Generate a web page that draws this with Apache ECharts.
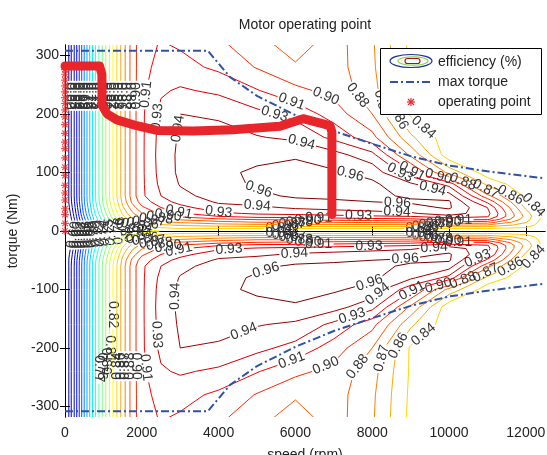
<!DOCTYPE html>
<html><head><meta charset="utf-8">
<script src="https://cdn.jsdelivr.net/npm/echarts@6/dist/echarts.min.js"></script>
<style>html,body{margin:0;padding:0;background:#fff}#c{width:547px;height:455px}</style>
</head><body><div id="c"></div>
<script>
// ---------- data ----------
const speedGrid = [0, 100, 250, 500, 750, 1000, 1250, 1500, 1750, 2000, 2500, 3000, 4000, 5000, 6000, 7000, 8000, 9000, 10000, 11000, 12000, 12500];
// torque rows (positive half; the map is mirror-symmetric about 0 Nm)
const torqueRows = [0, 5, 10, 15, 20, 25, 30, 40, 50, 60, 80, 100, 130, 160, 200, 240, 280, 320];
const eff_T0   = [0, 0.57, 0.60, 0.65, 0.70, 0.735, 0.765, 0.79, 0.805, 0.815, 0.826, 0.83, 0.83, 0.83, 0.83, 0.83, 0.83, 0.83, 0.83, 0.83, 0.83, 0.83];
const eff_T5   = [0, 0.575, 0.605, 0.655, 0.705, 0.74, 0.772, 0.80, 0.818, 0.83, 0.838, 0.842, 0.842, 0.842, 0.842, 0.842, 0.842, 0.842, 0.842, 0.842, 0.838, 0.83];
const eff_T10  = [0, 0.58, 0.61, 0.66, 0.71, 0.745, 0.78, 0.81, 0.83, 0.845, 0.852, 0.857, 0.862, 0.865, 0.865, 0.865, 0.865, 0.865, 0.87, 0.868, 0.848, 0.83];
const eff_T15  = [0, 0.583, 0.613, 0.665, 0.715, 0.752, 0.788, 0.82, 0.842, 0.856, 0.866, 0.872, 0.88, 0.885, 0.885, 0.886, 0.888, 0.89, 0.895, 0.893, 0.856, 0.831];
const eff_T20  = [0, 0.586, 0.616, 0.67, 0.72, 0.758, 0.795, 0.828, 0.85, 0.865, 0.88, 0.888, 0.897, 0.902, 0.905, 0.907, 0.91, 0.912, 0.92, 0.918, 0.862, 0.832];
const eff_T25  = [0, 0.589, 0.619, 0.675, 0.725, 0.764, 0.802, 0.836, 0.86, 0.875, 0.893, 0.903, 0.915, 0.922, 0.922, 0.925, 0.928, 0.93, 0.94, 0.932, 0.865, 0.832];
const eff_T30  = [0, 0.592, 0.622, 0.68, 0.73, 0.77, 0.808, 0.843, 0.867, 0.884, 0.903, 0.913, 0.927, 0.932, 0.935, 0.937, 0.94, 0.943, 0.953, 0.935, 0.862, 0.831];
const eff_T40  = [0, 0.597, 0.627, 0.685, 0.736, 0.777, 0.816, 0.852, 0.878, 0.897, 0.915, 0.925, 0.94, 0.942, 0.947, 0.95, 0.952, 0.955, 0.962, 0.93, 0.852, 0.83];
const eff_T50  = [0, 0.601, 0.631, 0.689, 0.741, 0.783, 0.822, 0.859, 0.888, 0.907, 0.924, 0.935, 0.947, 0.951, 0.956, 0.958, 0.96, 0.962, 0.962, 0.912, 0.843, 0.83];
const eff_T60  = [0, 0.603, 0.632, 0.69, 0.742, 0.785, 0.825, 0.862, 0.892, 0.912, 0.93, 0.941, 0.951, 0.957, 0.962, 0.963, 0.963, 0.958, 0.952, 0.89, 0.836, 0.83];
const eff_T80  = [0, 0.603, 0.632, 0.69, 0.742, 0.785, 0.825, 0.862, 0.892, 0.912, 0.934, 0.946, 0.955, 0.962, 0.965, 0.965, 0.963, 0.948, 0.925, 0.85, 0.83, 0.83];
const eff_T100 = [0, 0.603, 0.632, 0.69, 0.742, 0.785, 0.825, 0.862, 0.892, 0.912, 0.936, 0.948, 0.956, 0.963, 0.966, 0.962, 0.955, 0.92, 0.865, 0.832, 0.83, 0.83];
const eff_T130 = [0, 0.603, 0.632, 0.69, 0.742, 0.785, 0.825, 0.862, 0.892, 0.912, 0.937, 0.948, 0.954, 0.955, 0.958, 0.951, 0.935, 0.882, 0.83, 0.83, 0.83, 0.83];
const eff_T160 = [0, 0.603, 0.632, 0.69, 0.742, 0.785, 0.825, 0.862, 0.892, 0.912, 0.936, 0.947, 0.95, 0.946, 0.942, 0.926, 0.905, 0.858, 0.83, 0.83, 0.83, 0.83];
const eff_T200 = [0, 0.603, 0.632, 0.69, 0.742, 0.785, 0.825, 0.862, 0.892, 0.912, 0.934, 0.945, 0.943, 0.934, 0.925, 0.908, 0.885, 0.838, 0.83, 0.83, 0.83, 0.83];
const eff_T240 = [0, 0.603, 0.632, 0.69, 0.742, 0.785, 0.825, 0.862, 0.892, 0.911, 0.928, 0.932, 0.927, 0.916, 0.904, 0.895, 0.876, 0.838, 0.83, 0.83, 0.83, 0.83];
const eff_T280 = [0, 0.603, 0.632, 0.69, 0.742, 0.785, 0.825, 0.862, 0.892, 0.91, 0.92, 0.92, 0.912, 0.899, 0.887, 0.892, 0.873, 0.837, 0.83, 0.83, 0.83, 0.83];
const eff_T320 = [0, 0.603, 0.632, 0.69, 0.742, 0.785, 0.825, 0.862, 0.892, 0.91, 0.916, 0.913, 0.903, 0.89, 0.878, 0.892, 0.872, 0.836, 0.83, 0.83, 0.83, 0.83];
const effRows = [eff_T0, eff_T5, eff_T10, eff_T15, eff_T20, eff_T25, eff_T30, eff_T40, eff_T50, eff_T60, eff_T80, eff_T100, eff_T130, eff_T160, eff_T200, eff_T240, eff_T280, eff_T320];

const contourLevels = [0.60, 0.615, 0.63, 0.645, 0.66, 0.675, 0.69, 0.705, 0.72, 0.735, 0.75, 0.765, 0.78, 0.795, 0.81, 0.825, 0.84, 0.855, 0.87, 0.885, 0.90, 0.915, 0.93, 0.945, 0.96];
const contourLabels = ['0.60', '0.62', '0.63', '0.64', '0.66', '0.68', '0.69', '0.70', '0.72', '0.74', '0.75', '0.77', '0.78', '0.80', '0.81', '0.82', '0.84', '0.86', '0.87', '0.88', '0.90', '0.91', '0.93', '0.94', '0.96'];

const maxTorqueSpeed = [0, 3720, 4300, 5000, 6000, 7000, 8000, 9000, 10000, 11000, 12000, 12500];
const maxTorqueValue = [308, 308, 263, 231, 198, 171, 149, 128, 112, 102, 94, 90];

const opPathSpeed  = [0, 900, 960, 965, 1100, 1350, 1870, 2390, 3330, 4370, 5600, 6200, 6900, 6950, 6950];
const opPathTorque = [282, 282, 268, 215, 200, 190, 180, 172, 171, 173, 179, 192, 180, 170, 28];
const opStartTorque = [0, 13, 28, 38, 53, 65, 78, 95, 109, 125, 141, 152, 167, 182, 195, 207, 218, 228, 238, 248, 258, 268, 276];

const xTicks = [0, 2000, 4000, 6000, 8000, 10000, 12000];
const yTicks = [-300, -200, -100, 0, 100, 200, 300];

// ---------- contour computation (marching squares) ----------
const gridT = [], gridZ = [];
for (let j = torqueRows.length - 1; j > 0; j--) { gridT.push(-torqueRows[j]); gridZ.push(effRows[j]); }
for (let j = 0; j < torqueRows.length; j++) { gridT.push(torqueRows[j]); gridZ.push(effRows[j]); }

function contourLines(S, T, Z, L) {
  const nx = S.length, ny = T.length;
  const pts = {}, adj = {};
  function key(type, j, i) {
    const k = type + j + '_' + i;
    if (!pts[k]) {
      if (type === 'h') {
        const a = Z[j][i], b = Z[j][i + 1], t = (L - a) / (b - a);
        pts[k] = [S[i] + t * (S[i + 1] - S[i]), T[j]];
      } else {
        const a = Z[j][i], b = Z[j + 1][i], t = (L - a) / (b - a);
        pts[k] = [S[i], T[j] + t * (T[j + 1] - T[j])];
      }
    }
    return k;
  }
  function seg(k1, k2) { (adj[k1] = adj[k1] || []).push(k2); (adj[k2] = adj[k2] || []).push(k1); }
  for (let j = 0; j < ny - 1; j++) for (let i = 0; i < nx - 1; i++) {
    const a = Z[j][i], b = Z[j][i + 1], c = Z[j + 1][i + 1], d = Z[j + 1][i];
    const A = a >= L, B = b >= L, C = c >= L, D = d >= L;
    const e = {};
    if (A !== B) e.bot = key('h', j, i);
    if (B !== C) e.right = key('v', j, i + 1);
    if (D !== C) e.top = key('h', j + 1, i);
    if (A !== D) e.left = key('v', j, i);
    const ks = Object.keys(e);
    if (ks.length === 2) seg(e[ks[0]], e[ks[1]]);
    else if (ks.length === 4) {
      const ctr = (a + b + c + d) / 4 >= L;
      if (ctr === A) { seg(e.bot, e.right); seg(e.top, e.left); }
      else { seg(e.bot, e.left); seg(e.right, e.top); }
    }
  }
  const visited = new Set(), lines = [];
  function walk(start) {
    const line = [pts[start]]; visited.add(start);
    let cur = start;
    while (true) {
      const nb = adj[cur].filter(k => !visited.has(k));
      if (!nb.length) { if (adj[cur].includes(start) && line.length > 2) line.push(pts[start]); break; }
      cur = nb[0]; visited.add(cur); line.push(pts[cur]);
    }
    return line;
  }
  Object.keys(adj).forEach(k => { if (adj[k].length === 1 && !visited.has(k)) lines.push(walk(k)); });
  Object.keys(adj).forEach(k => { if (!visited.has(k)) lines.push(walk(k)); });
  return lines;
}

function jet(t) {
  const cl = v => Math.max(0, Math.min(1, v));
  const r = cl(1.5 - Math.abs(4 * t - 3)), g = cl(1.5 - Math.abs(4 * t - 2)), b = cl(1.5 - Math.abs(4 * t - 1));
  return 'rgb(' + Math.round(r * 255) + ',' + Math.round(g * 255) + ',' + Math.round(b * 255) + ')';
}
const lvMin = contourLevels[0], lvMax = contourLevels[contourLevels.length - 1];
const polylines = [];
contourLevels.forEach((L, li) => {
  contourLines(speedGrid, gridT, gridZ, L).forEach(pl => {
    if (pl.length < 2) return;
    if (pl[0][1] < pl[pl.length - 1][1]) pl.reverse();
    polylines.push({ pts: pl, color: jet((L - lvMin) / (lvMax - lvMin)), text: contourLabels[li] });
  });
});

const FONT = '"Liberation Sans", Arial, Helvetica, sans-serif';
const LABEL_FIRST = 52, LABEL_STEP = 140, LABEL_GAP = 30, LABEL_TAIL = 48;

function subPath(P, cum, s0, s1) {
  const out = [];
  function at(s) {
    for (let k = 1; k < P.length; k++) if (cum[k] >= s) {
      const t = (s - cum[k - 1]) / ((cum[k] - cum[k - 1]) || 1);
      return [P[k - 1][0] + t * (P[k][0] - P[k - 1][0]), P[k - 1][1] + t * (P[k][1] - P[k - 1][1])];
    }
    return P[P.length - 1];
  }
  out.push(at(s0));
  for (let k = 0; k < P.length; k++) if (cum[k] > s0 && cum[k] < s1) out.push(P[k]);
  out.push(at(s1));
  return out;
}

function renderContour(params, api) {
  const item = polylines[params.dataIndex];
  const P = item.pts.map(p => api.coord(p));
  const cum = [0];
  for (let k = 1; k < P.length; k++) cum.push(cum[k - 1] + Math.hypot(P[k][0] - P[k - 1][0], P[k][1] - P[k - 1][1]));
  const total = cum[cum.length - 1];
  const labels = [];
  for (let s = LABEL_FIRST; s + LABEL_TAIL < total; s += LABEL_STEP) labels.push(s);
  const children = [];
  let from = 0;
  const pieces = [];
  labels.forEach(s => { pieces.push([from, s - LABEL_GAP / 2]); from = s + LABEL_GAP / 2; });
  pieces.push([from, total]);
  pieces.forEach(([a, b]) => {
    if (b - a <= 0.5) return;
    children.push({ type: 'polyline', shape: { points: subPath(P, cum, a, b) }, style: { stroke: item.color, fill: null, lineWidth: 1 }, silent: true });
  });
  labels.forEach(s => {
    const p0 = subPath(P, cum, s - 6, s + 6);
    const q0 = p0[0], q1 = p0[p0.length - 1];
    let ang = Math.atan2(q1[1] - q0[1], q1[0] - q0[0]);
    if (ang > Math.PI / 2) ang -= Math.PI; if (ang < -Math.PI / 2) ang += Math.PI;
    const c = subPath(P, cum, s, s)[0];
    children.push({ type: 'text', x: c[0], y: c[1], rotation: -ang, silent: true,
      style: { text: item.text, fill: '#333', font: '14px ' + FONT, align: 'center', verticalAlign: 'middle' } });
  });
  return { type: 'group', children };
}

const chart = echarts.init(document.getElementById('c'), null, { renderer: 'canvas' });
const axisCommon = {
  axisLine: { lineStyle: { color: '#000', width: 1 } },
  splitLine: { show: false },
};
const plain = v => String(v);
const starLen = 4, starDiag = 3;
const option = {
  animation: false,
  backgroundColor: '#fff',
  title: { text: 'Motor operating point', left: 300, textAlign: 'center', top: 13,
    textStyle: { fontFamily: FONT, fontSize: 14, fontWeight: 'normal', color: '#222' } },
  grid: { left: 65, right: 2, top: 45, bottom: 38, show: false, containLabel: false, outerBoundsMode: 'none' },
  xAxis: [
    Object.assign({ type: 'value', min: 0, max: 12500, position: 'bottom', name: 'speed (rpm)', nameLocation: 'middle', nameGap: 31,
      nameTextStyle: { fontFamily: FONT, fontSize: 14, color: '#222' },
      axisTick: { inside: true, length: 5, customValues: xTicks, lineStyle: { color: '#000' } },
      axisLabel: { customValues: xTicks, formatter: plain, fontFamily: FONT, fontSize: 14, color: '#222', margin: 9 } }, axisCommon),
    Object.assign({ type: 'value', min: 0, max: 12500, position: 'top',
      axisTick: { inside: true, length: 5, customValues: xTicks, lineStyle: { color: '#000' } },
      axisLabel: { show: false } }, axisCommon)
  ],
  yAxis: [
    Object.assign({ type: 'value', min: -318, max: 318, position: 'left', name: 'torque (Nm)', nameLocation: 'middle', nameGap: 37,
      nameTextStyle: { fontFamily: FONT, fontSize: 14, color: '#222' },
      axisTick: { inside: true, length: 5, customValues: yTicks, lineStyle: { color: '#000' } },
      axisLabel: { customValues: yTicks, formatter: plain, fontFamily: FONT, fontSize: 14, color: '#222', margin: 6 } }, axisCommon),
    Object.assign({ type: 'value', min: -318, max: 318, position: 'right',
      axisTick: { inside: true, length: 5, customValues: yTicks, lineStyle: { color: '#000' } },
      axisLabel: { show: false } }, axisCommon)
  ],
  series: [
    { type: 'custom', name: 'efficiency (%)', clip: true, z: 2, silent: true,
      renderItem: renderContour, data: polylines.map(() => [0, 0]), encode: { x: 0, y: 1 } },
    { type: 'line', name: 'max torque', z: 3, symbol: 'none', silent: true,
      data: maxTorqueSpeed.map((s, i) => [s, maxTorqueValue[i]]),
      lineStyle: { color: '#2f52a8', width: 2, type: [8, 3, 2, 3] } },
    { type: 'line', name: 'max torque', z: 3, symbol: 'none', silent: true,
      data: maxTorqueSpeed.map((s, i) => [s, -maxTorqueValue[i]]),
      lineStyle: { color: '#2f52a8', width: 2, type: [8, 3, 2, 3] } },
    { type: 'line', name: 'operating point', z: 4, symbol: 'none', silent: true,
      data: opPathSpeed.map((s, i) => [s, opPathTorque[i]]),
      lineStyle: { color: '#e8252a', width: 9, join: 'round', cap: 'round' } },
    { type: 'scatter', name: 'operating point', z: 4, silent: true, clip: false,
      symbol: 'path://M0,-10L0,10M-10,0L10,0M-7,-7L7,7M-7,7L7,-7', symbolSize: 8,
      data: opStartTorque.map(t => [0, t]),
      itemStyle: { color: 'rgba(0,0,0,0)', borderColor: '#e8252a', borderWidth: 1.2 } }
  ],
  graphic: [
    { type: 'rect', z: 100, shape: { x: 380.5, y: 48.5, width: 161, height: 66 }, style: { fill: '#fff', stroke: '#000', lineWidth: 1 } },
    { type: 'ellipse', z: 101, shape: { cx: 411, cy: 61, rx: 21, ry: 6.5 }, style: { fill: null, stroke: '#1c2d9c', lineWidth: 1.2 } },
    { type: 'ellipse', z: 101, shape: { cx: 413, cy: 61, rx: 15, ry: 4.2 }, style: { fill: null, stroke: '#8fd14a', lineWidth: 1.2 } },
    { type: 'rect', z: 101, shape: { x: 405, y: 58.5, width: 15, height: 5, r: 2.5 }, style: { fill: null, stroke: '#a51515', lineWidth: 1.2 } },
    { type: 'text', z: 101, x: 438, y: 62, style: { text: 'efficiency (%)', font: '14px ' + FONT, fill: '#222', verticalAlign: 'middle' } },
    { type: 'line', z: 101, shape: { x1: 390, y1: 82, x2: 433, y2: 82 }, style: { stroke: '#2f52a8', lineWidth: 2, lineDash: [8, 3, 2, 3] } },
    { type: 'text', z: 101, x: 438, y: 82, style: { text: 'max torque', font: '14px ' + FONT, fill: '#222', verticalAlign: 'middle' } },
    { type: 'line', z: 101, shape: { x1: 411, y1: 102 - starLen, x2: 411, y2: 102 + starLen }, style: { stroke: '#e8252a', lineWidth: 1.2 } },
    { type: 'line', z: 101, shape: { x1: 411 - starLen, y1: 102, x2: 411 + starLen, y2: 102 }, style: { stroke: '#e8252a', lineWidth: 1.2 } },
    { type: 'line', z: 101, shape: { x1: 411 - starDiag, y1: 102 - starDiag, x2: 411 + starDiag, y2: 102 + starDiag }, style: { stroke: '#e8252a', lineWidth: 1.2 } },
    { type: 'line', z: 101, shape: { x1: 411 - starDiag, y1: 102 + starDiag, x2: 411 + starDiag, y2: 102 - starDiag }, style: { stroke: '#e8252a', lineWidth: 1.2 } },
    { type: 'text', z: 101, x: 438, y: 102, style: { text: 'operating point', font: '14px ' + FONT, fill: '#222', verticalAlign: 'middle' } }
  ]
};
chart.setOption(option);
</script>
</body></html>
